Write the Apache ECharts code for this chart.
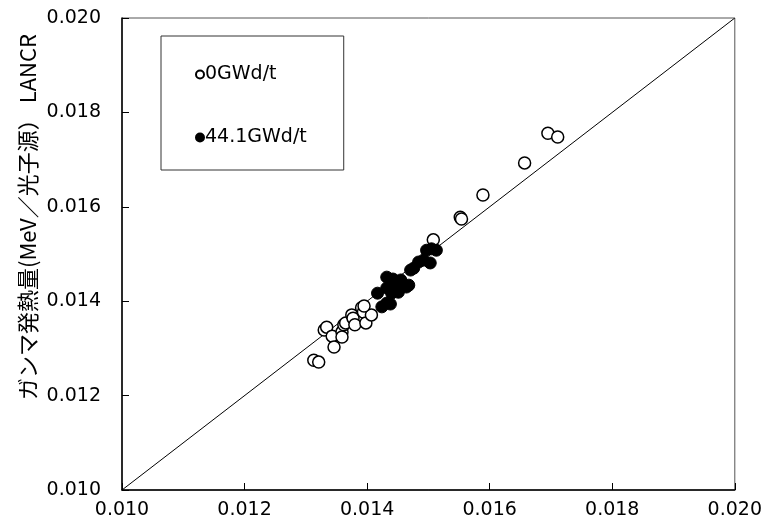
<!DOCTYPE html>
<html><head><meta charset="utf-8">
<script src="https://cdn.jsdelivr.net/npm/echarts@6/dist/echarts.min.js"></script>
<style>html,body{margin:0;padding:0;background:#fff}#c{width:765px;height:529px}</style>
</head><body><div id="c"></div>
<script>
var axisMin = 0.010, axisMax = 0.020, axisStep = 0.002;
var seriesNames = ['0GWd/t', '44.1GWd/t'];
var yAxisTitle = 'ガンマ発熱量(MeV／光子源） LANCR';
var burnup0 = [
  [0.01313,0.01275],[0.01321,0.01271],[0.01330,0.01339],[0.01334,0.01345],
  [0.01343,0.01326],[0.01346,0.01303],[0.01359,0.01335],[0.01359,0.01324],
  [0.01362,0.01350],[0.01365,0.01354],[0.01375,0.01371],[0.01377,0.01364],
  [0.01380,0.01350],[0.01391,0.01386],[0.01394,0.01377],[0.01398,0.01354],
  [0.01407,0.01371],[0.01395,0.01390],[0.01508,0.01530],[0.01552,0.01578],
  [0.01554,0.01574],[0.01589,0.01625],[0.01657,0.01693],[0.01695,0.01756],
  [0.01711,0.01748]
];
var burnup441 = [
  [0.01417,0.01417],[0.01424,0.01388],[0.01432,0.01396],[0.01438,0.01394],
  [0.01432,0.01428],[0.01440,0.01417],[0.01432,0.01451],[0.01442,0.01447],
  [0.01448,0.01434],[0.01451,0.01419],[0.01459,0.01434],[0.01464,0.01430],
  [0.01468,0.01434],[0.01455,0.01445],[0.01471,0.01466],[0.01476,0.01470],
  [0.01484,0.01483],[0.01492,0.01487],[0.01503,0.01481],[0.01497,0.01508],
  [0.01505,0.01511],[0.01513,0.01508]
];
var diagonal = [[axisMin, axisMin],[axisMax, axisMax]];

var chart = echarts.init(document.getElementById('c'));
var lblFont = {color:'#000', fontSize:19, fontFamily:'DejaVu Sans', formatter:function(v){return v.toFixed(3);}};
function mkAxis(isY){
  return {
    type:'value', min:axisMin, max:axisMax, interval:axisStep,
    axisLine:{show:true, onZero:false, lineStyle:{color:'#000', width:1.5}},
    axisTick:{show:true, inside:true, length:7, lineStyle:{color:'#000', width:1}},
    splitLine:{show:false},
    axisLabel:Object.assign({margin: isY ? 21 : 11}, lblFont)
  };
}
chart.setOption({
  animation:false,
  grid:{left:122, right:27, top:18, bottom:39, show:true, borderColor:'#555', borderWidth:1, backgroundColor:'#fff'},
  xAxis:mkAxis(false),
  yAxis:mkAxis(true),
  legend:{
    left:161, top:36, orient:'vertical',
    data:seriesNames,
    padding:[29, 37, 23, 34],
    itemGap:44, itemWidth:8, itemHeight:8, icon:'circle',
    borderColor:'#333', borderWidth:1, backgroundColor:'#fff',
    textStyle:{color:'#000', fontSize:19, fontFamily:'DejaVu Sans', padding:[0,0,0,-4]}
  },
  graphic:[{
    type:'text', x:28, y:217, rotation:Math.PI/2,
    style:{text:yAxisTitle, fontSize:22, fontFamily:'Noto Sans CJK JP', fill:'#000', align:'center', verticalAlign:'middle'}
  }],
  series:[
    {type:'line', data:diagonal, symbol:'none', silent:true, lineStyle:{color:'#000', width:1}, z:1},
    {name:seriesNames[0], type:'scatter', data:burnup0, symbol:'circle', symbolSize:12,
     itemStyle:{color:'#fff', borderColor:'#000', borderWidth:1.5, opacity:1}, z:3},
    {name:seriesNames[1], type:'scatter', data:burnup441, symbol:'circle', symbolSize:12,
     itemStyle:{color:'#000', borderColor:'#000', borderWidth:1, opacity:1}, z:4}
  ]
});
</script></body></html>
